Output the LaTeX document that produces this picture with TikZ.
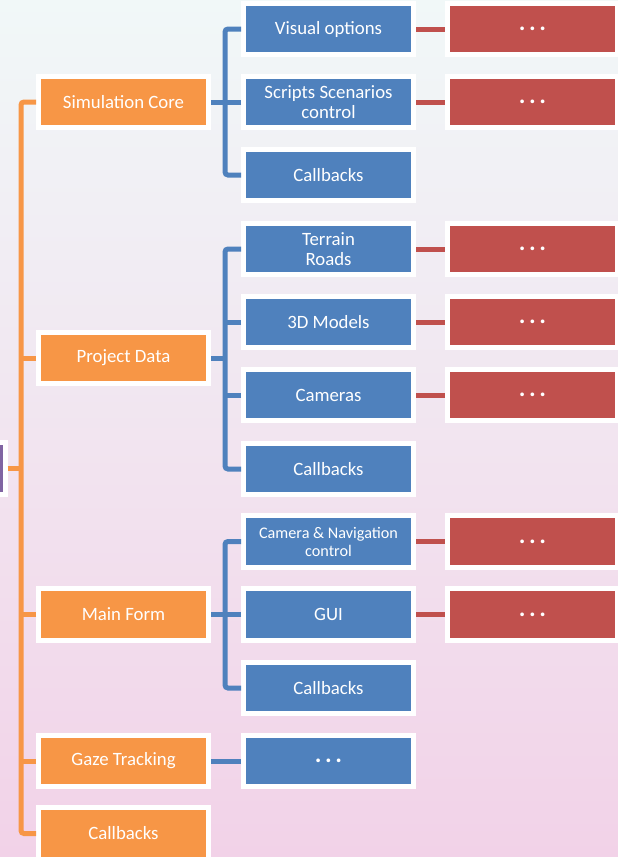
\documentclass[tikz,border=0pt]{standalone}
\usepackage{fontspec}
\setmainfont{Carlito}
\usetikzlibrary{calc}
\definecolor{orangeA}{HTML}{F79646}
\definecolor{blueA}{HTML}{4F81BD}
\definecolor{redA}{HTML}{C0504D}
\definecolor{purpleA}{HTML}{8064A2}
\definecolor{bgtop}{HTML}{F1F8F8}
\definecolor{bgmid}{HTML}{FBF8F9}
\definecolor{bgbot}{HTML}{F2D2E8}
\tikzset{
  box/.style={draw=white, line width=5pt, minimum width=170pt, minimum height=51.5pt,
    text=white, align=center, inner sep=2pt, font=\fontsize{18.8}{20}\selectfont},
  obox/.style={box, fill=orangeA},
  bbox/.style={box, fill=blueA},
  rbox/.style={box, fill=redA},
  pbox/.style={box, fill=purpleA},
  small/.style={font=\fontsize{16.2}{18}\selectfont},
  oline/.style={draw=orangeA, line width=5pt, rounded corners=3pt},
  bline/.style={draw=blueA, line width=5pt, rounded corners=3pt},
  rline/.style={draw=redA, line width=5pt},
}
\newcommand{\dotsx}{{\fontsize{25}{25}\selectfont\bfseries .\hspace{3.5pt}.\hspace{3.5pt}.}}
\begin{document}
\begin{tikzpicture}[x=1pt,y=-1pt]
\useasboundingbox (0,0) rectangle (618,857);
\clip (0,0) rectangle (618,857);
\shade[top color=bgtop, middle color=bgmid, bottom color=bgbot] (0,0) rectangle (618,857);

\coordinate (ot) at (21,0);
\coordinate (bt) at (225,0);

% level 1 (orange)
\node[pbox] (pu) at (-80,468.5) {};
\node[obox] (sc) at (123.5,102) {Simulation Core};
\node[obox] (pd) at (123.5,358) {Project Data};
\node[obox] (mf) at (123.5,614.5) {Main Form};
\node[obox] (gt) at (123.5,761) {Gaze Tracking};
\node[obox] (cb) at (123.5,833.5) {Callbacks};

% level 2 (blue)
\node[bbox] (v1) at (328.5,29) {Visual options};
\node[bbox] (s1) at (328.5,102) {Scripts Scenarios\\control};
\node[bbox] (c1) at (328.5,175) {Callbacks};
\node[bbox] (t2) at (328.5,249) {Terrain\\Roads};
\node[bbox] (m2) at (328.5,322) {3D Models};
\node[bbox] (k2) at (328.5,395) {Cameras};
\node[bbox] (c2) at (328.5,469) {Callbacks};
\node[bbox, small] (n3) at (328.5,541.5) {Camera \& Navigation\\control};
\node[bbox] (g3) at (328.5,614.5) {GUI};
\node[bbox] (c3) at (328.5,688) {Callbacks};
\node[bbox] (d4) at (328.5,761) {\dotsx};

% level 3 (red)
\node[rbox] (r1) at (532.5,29) {\dotsx};
\node[rbox] (r2) at (532.5,102) {\dotsx};
\node[rbox] (r3) at (532.5,249) {\dotsx};
\node[rbox] (r4) at (532.5,322) {\dotsx};
\node[rbox] (r5) at (532.5,395) {\dotsx};
\node[rbox] (r6) at (532.5,541.5) {\dotsx};
\node[rbox] (r7) at (532.5,614.5) {\dotsx};

% orange connectors
\draw[oline] (sc.west) -| (ot |- cb.west) -- (cb.west);
\draw[oline] (pd.west) -- (ot |- pd.west);
\draw[oline] (mf.west) -- (ot |- mf.west);
\draw[oline] (gt.west) -- (ot |- gt.west);
\draw[oline] (pu.east) -- (ot |- pu.east);

% blue connectors
\draw[bline] (v1.west) -| (bt |- c1.west) -- (c1.west);
\draw[bline] (s1.west) -- (bt |- s1.west);
\draw[bline] (sc.east) -- (bt |- sc.east);

\draw[bline] (t2.west) -| (bt |- c2.west) -- (c2.west);
\draw[bline] (m2.west) -- (bt |- m2.west);
\draw[bline] (k2.west) -- (bt |- k2.west);
\draw[bline] (pd.east) -- (bt |- pd.east);

\draw[bline] (n3.west) -| (bt |- c3.west) -- (c3.west);
\draw[bline] (g3.west) -- (bt |- g3.west);
\draw[bline] (mf.east) -- (bt |- mf.east);

\draw[bline] (gt.east) -- (d4.west);

% red connectors
\draw[rline] (v1.east) -- (r1.west);
\draw[rline] (s1.east) -- (r2.west);
\draw[rline] (t2.east) -- (r3.west);
\draw[rline] (m2.east) -- (r4.west);
\draw[rline] (k2.east) -- (r5.west);
\draw[rline] (n3.east) -- (r6.west);
\draw[rline] (g3.east) -- (r7.west);
\end{tikzpicture}
\end{document}
